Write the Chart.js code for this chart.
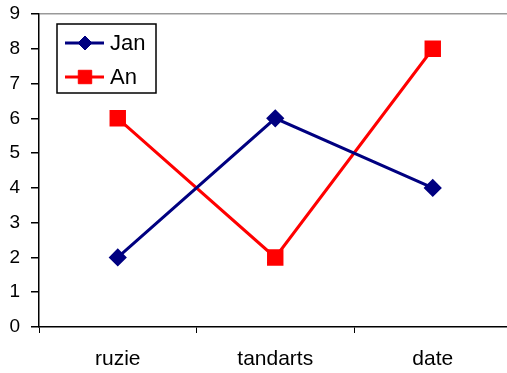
<!DOCTYPE html>
<html><head><meta charset="utf-8">
<script src="https://cdn.jsdelivr.net/npm/chart.js@4"></script>
<style>html,body{margin:0;padding:0;overflow:hidden;background:#fff;width:507px;height:373px}
#wrap{position:absolute;left:0;top:0;width:524px;height:373px}</style>
</head><body>
<div id="wrap"><canvas id="c"></canvas></div>
<script>
const categories = ['ruzie', 'tandarts', 'date'];
const janValues = [2, 6, 4];
const anValues = [6, 2, 8];
const yTicks = [0,1,2,3,4,5,6,7,8,9];
const FONT = '"Liberation Sans", Arial, sans-serif';

const legendPlugin = {
  id: 'boxLegend',
  afterDraw(chart) {
    const ctx = chart.ctx;
    ctx.save();
    ctx.strokeStyle = '#000'; ctx.lineWidth = 1.5;
    ctx.fillStyle = '#fff';
    ctx.fillRect(57, 24, 99, 69);
    ctx.strokeRect(57, 24, 99, 69);
    const ys = [43, 77];
    chart.data.datasets.forEach((ds, i) => {
      const y = ys[i];
      ctx.strokeStyle = ds.borderColor; ctx.lineWidth = 3;
      ctx.beginPath(); ctx.moveTo(65, y); ctx.lineTo(104, y); ctx.stroke();
      ctx.fillStyle = ds.backgroundColor;
      ctx.strokeStyle = ds.borderColor; ctx.lineWidth = 1;
      Chart.helpers.drawPoint(ctx, {pointStyle: ds.pointStyle, radius: ds.pointRadius, rotation: 0, borderWidth: 1}, 85, y);
      ctx.fillStyle = '#000';
      ctx.font = '22px ' + FONT;
      ctx.textBaseline = 'middle';
      ctx.fillText(ds.label, 110, y + 1);
    });
    ctx.restore();
  }
};

new Chart(document.getElementById('c'), {
  type: 'line',
  data: {
    labels: categories,
    datasets: [
      {label: 'Jan', data: janValues, borderColor: '#000080', backgroundColor: '#000080',
       borderWidth: 3, pointStyle: 'rectRot', pointRadius: 7, pointHoverRadius: 7, tension: 0},
      {label: 'An', data: anValues, borderColor: '#ff0000', backgroundColor: '#ff0000',
       borderWidth: 3, pointStyle: 'rect', pointRadius: 9.5, pointHoverRadius: 9.5, tension: 0}
    ]
  },
  options: {
    responsive: true, maintainAspectRatio: false, animation: false,
    layout: {padding: {top: 0, right: 0, bottom: 0, left: 0}},
    plugins: {legend: {display: false}, tooltip: {enabled: false}},
    scales: {
      x: {
        offset: true,
        afterFit: (s) => { s.height = 46; s.paddingLeft = 0; s.paddingRight = 0; },
        grid: {display: true, drawOnChartArea: false, offset: true, tickLength: 6, color: '#000', lineWidth: 1},
        border: {display: true, color: '#000', width: 1.5},
        ticks: {color: '#000', font: {size: 21, family: FONT}, padding: 14, maxRotation: 0, autoSkip: false}
      },
      y: {
        min: 0, max: 9,
        afterFit: (s) => { s.width = 39; s.paddingTop = 14; s.paddingBottom = 0; },
        afterBuildTicks: (axis) => { axis.ticks = yTicks.map(v => ({value: v})); },
        grid: {
          drawOnChartArea: true, tickLength: 8,
          color: (c) => c.tick && c.tick.value === 9 ? '#999' : 'rgba(0,0,0,0)',
          tickColor: '#000', lineWidth: 1.5
        },
        border: {display: true, color: '#000', width: 1.5},
        ticks: {color: '#000', font: {size: 19, family: FONT}, padding: 11}
      }
    }
  },
  plugins: [legendPlugin]
});
</script>
</body></html>
